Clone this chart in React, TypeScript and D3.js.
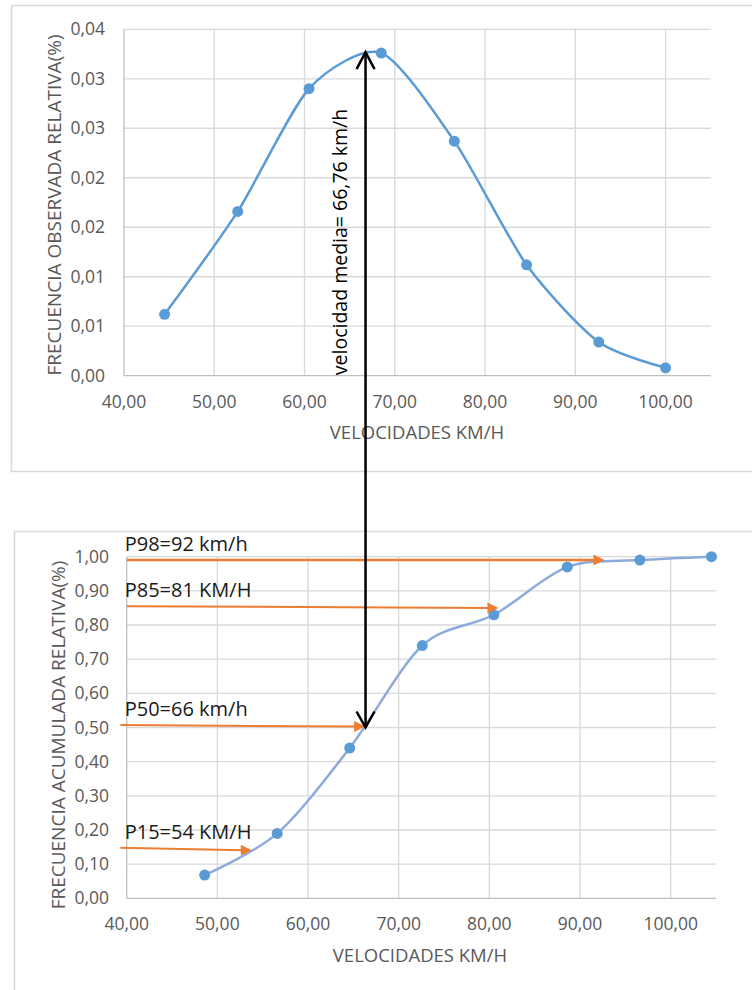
import React, { useEffect, useRef } from "react";
import * as d3 from "d3";

// top chart: observed relative frequency per speed class
const topSpeeds = [44.5, 52.6, 60.5, 68.5, 76.6, 84.6, 92.6, 100.0];
const topFreq = [0.0062, 0.0166, 0.029, 0.0326, 0.0237, 0.0112, 0.0034, 0.0008];
const topYTicks = [0, 0.005, 0.01, 0.015, 0.02, 0.025, 0.03, 0.035];
const topYLabels = ["0,00", "0,01", "0,01", "0,02", "0,02", "0,03", "0,03", "0,04"];

// bottom chart: cumulative relative frequency
const botSpeeds = [48.6, 56.6, 64.6, 72.6, 80.5, 88.6, 96.6, 104.5];
const botCum = [0.068, 0.19, 0.44, 0.74, 0.83, 0.97, 0.99, 1.0];
const botYTicks = [0, 0.1, 0.2, 0.3, 0.4, 0.5, 0.6, 0.7, 0.8, 0.9, 1.0];

const xTicks = [40, 50, 60, 70, 80, 90, 100];

// percentile annotations
const pctLabels = ["P98=92 km/h", "P85=81 KM/H", "P50=66 km/h", "P15=54 KM/H"];
const pctLevel = [0.99, 0.855, 0.507, 0.148];
const pctLevelEnd = [0.99, 0.85, 0.503, 0.141];
const pctStart = [40, 40, 39.3, 39.3];
const pctTip = [92.7, 81.0, 66.3, 53.8];

const meanSpeed = 66.76;
const meanLabel = "velocidad media= 66,76 km/h";

const fmt = (v: number) => v.toFixed(2).replace(".", ",");

export default function App() {
  const ref = useRef<SVGSVGElement>(null);

  useEffect(() => {
    const svg = d3.select(ref.current);
    svg.selectAll("*").remove();
    const font = "'Open Sans', sans-serif";
    const grey = "#595959";
    const tickSize = 17.5;
    const titleSize = 18.5;

    // chart borders
    svg.append("rect").attr("x", 11.5).attr("y", 5.5).attr("width", 760).attr("height", 466)
      .attr("fill", "#fff").attr("stroke", "#d9d9d9").attr("stroke-width", 1.5);
    svg.append("rect").attr("x", 14.5).attr("y", 531.5).attr("width", 760).attr("height", 500)
      .attr("fill", "#fff").attr("stroke", "#d9d9d9").attr("stroke-width", 1.5);

    // ---------- top chart ----------
    const xT = d3.scaleLinear().domain([40, 105]).range([124, 710.7]);
    const yT = d3.scaleLinear().domain([0, 0.035]).range([375.7, 29.3]);
    const gT = svg.append("g");

    gT.selectAll(".hg").data(topYTicks.slice(1)).enter().append("line")
      .attr("x1", xT(40)).attr("x2", xT(105))
      .attr("y1", d => yT(d)).attr("y2", d => yT(d))
      .attr("stroke", "#d9d9d9").attr("stroke-width", 1.3);
    gT.selectAll(".vg").data(xTicks.slice(1)).enter().append("line")
      .attr("x1", d => xT(d)).attr("x2", d => xT(d))
      .attr("y1", yT(0)).attr("y2", yT(0.035))
      .attr("stroke", "#d9d9d9").attr("stroke-width", 1.3);
    // axes
    gT.append("line").attr("x1", xT(40)).attr("x2", xT(105)).attr("y1", yT(0)).attr("y2", yT(0))
      .attr("stroke", "#bfbfbf").attr("stroke-width", 1.3);
    gT.append("line").attr("x1", xT(40)).attr("x2", xT(40)).attr("y1", yT(0)).attr("y2", yT(0.035))
      .attr("stroke", "#bfbfbf").attr("stroke-width", 1.3);

    gT.selectAll(".yl").data(topYTicks).enter().append("text")
      .attr("x", 105).attr("y", d => yT(d)).attr("dy", "0.35em")
      .attr("text-anchor", "end").attr("font-family", font).attr("font-size", tickSize)
      .attr("fill", grey).text((d, i) => topYLabels[i]);
    gT.selectAll(".xl").data(xTicks).enter().append("text")
      .attr("x", d => xT(d)).attr("y", 401.5).attr("dy", "0.35em")
      .attr("text-anchor", "middle").attr("font-family", font).attr("font-size", tickSize)
      .attr("fill", grey).text(d => fmt(d));

    gT.append("text").attr("x", 417).attr("y", 439).attr("text-anchor", "middle")
      .attr("font-family", font).attr("font-size", titleSize).attr("fill", grey)
      .text("VELOCIDADES KM/H");
    gT.append("text").attr("transform", "translate(61,205) rotate(-90)")
      .attr("text-anchor", "middle").attr("font-family", font).attr("font-size", 19)
      .attr("fill", grey).text("FRECUENCIA OBSERVADA RELATIVA(%)");

    const lineT = d3.line<number>()
      .x((d, i) => xT(topSpeeds[i])).y(d => yT(d))
      .curve(d3.curveCardinal.tension(0.25));
    gT.append("path").datum(topFreq).attr("d", lineT)
      .attr("fill", "none").attr("stroke", "#5b9bd5").attr("stroke-width", 2.5);
    gT.selectAll(".pt").data(topFreq).enter().append("circle")
      .attr("cx", (d, i) => xT(topSpeeds[i])).attr("cy", d => yT(d)).attr("r", 5.5)
      .attr("fill", "#5b9bd5");

    // ---------- bottom chart ----------
    const xB = d3.scaleLinear().domain([40, 105]).range([126.7, 716]);
    const yB = d3.scaleLinear().domain([0, 1]).range([898.3, 556.7]);
    const gB = svg.append("g");

    gB.selectAll(".hg").data(botYTicks.slice(1)).enter().append("line")
      .attr("x1", xB(40)).attr("x2", xB(105))
      .attr("y1", d => yB(d)).attr("y2", d => yB(d))
      .attr("stroke", "#d9d9d9").attr("stroke-width", 1.3);
    gB.selectAll(".vg").data(xTicks.slice(1)).enter().append("line")
      .attr("x1", d => xB(d)).attr("x2", d => xB(d))
      .attr("y1", yB(0)).attr("y2", yB(1))
      .attr("stroke", "#d9d9d9").attr("stroke-width", 1.3);
    gB.append("line").attr("x1", xB(40)).attr("x2", xB(105)).attr("y1", yB(0)).attr("y2", yB(0))
      .attr("stroke", "#bfbfbf").attr("stroke-width", 1.3);
    gB.append("line").attr("x1", xB(40)).attr("x2", xB(40)).attr("y1", yB(0)).attr("y2", yB(1))
      .attr("stroke", "#bfbfbf").attr("stroke-width", 1.3);

    gB.selectAll(".yl").data(botYTicks).enter().append("text")
      .attr("x", 109).attr("y", d => yB(d)).attr("dy", "0.35em")
      .attr("text-anchor", "end").attr("font-family", font).attr("font-size", tickSize)
      .attr("fill", grey).text(d => fmt(d));
    gB.selectAll(".xl").data(xTicks).enter().append("text")
      .attr("x", d => xB(d)).attr("y", 924).attr("dy", "0.35em")
      .attr("text-anchor", "middle").attr("font-family", font).attr("font-size", tickSize)
      .attr("fill", grey).text(d => fmt(d));
    gB.append("text").attr("x", 420).attr("y", 962).attr("text-anchor", "middle")
      .attr("font-family", font).attr("font-size", titleSize).attr("fill", grey)
      .text("VELOCIDADES KM/H");
    gB.append("text").attr("transform", "translate(65,735) rotate(-90)")
      .attr("text-anchor", "middle").attr("font-family", font).attr("font-size", 19)
      .attr("fill", grey).text("FRECUENCIA ACUMULADA RELATIVA(%)");

    const lineB = d3.line<number>()
      .x((d, i) => xB(botSpeeds[i])).y(d => yB(d))
      .curve(d3.curveCardinal.tension(0.1));
    gB.append("path").datum(botCum).attr("d", lineB)
      .attr("fill", "none").attr("stroke", "#8eaadc").attr("stroke-width", 2.5);
    gB.selectAll(".pt").data(botCum).enter().append("circle")
      .attr("cx", (d, i) => xB(botSpeeds[i])).attr("cy", d => yB(d)).attr("r", 5.5)
      .attr("fill", "#5b9bd5");

    // percentile arrows (orange)
    pctLabels.forEach((lab, i) => {
      const x1 = xB(pctStart[i]);
      const x2 = xB(pctTip[i]);
      const y1 = yB(pctLevel[i]);
      const y2 = yB(pctLevelEnd[i]);
      gB.append("line").attr("x1", x1).attr("y1", y1).attr("x2", x2 - 9).attr("y2", y2)
        .attr("stroke", "#ed7d31").attr("stroke-width", i === 0 ? 2.5 : 2);
      gB.append("path")
        .attr("d", `M${x2},${y2} L${x2 - 11},${y2 - 5.5} L${x2 - 11},${y2 + 5.5} Z`)
        .attr("fill", "#ed7d31");
      gB.append("text").attr("x", xB(40) - 2).attr("y", y1 - 9)
        .attr("font-family", font).attr("font-size", 20).attr("fill", "#1a1a1a")
        .text(lab);
    });

    // mean speed double arrow spanning both charts
    const mx = xT(meanSpeed);
    const yTop = yT(0.0327);
    const yBot = yB(0.5);
    svg.append("line").attr("x1", mx).attr("x2", mx).attr("y1", yTop + 1).attr("y2", yBot - 1)
      .attr("stroke", "#000").attr("stroke-width", 2.5);
    svg.append("path").attr("d", `M${mx - 9},${yTop + 17} L${mx},${yTop} L${mx + 9},${yTop + 17}`)
      .attr("fill", "none").attr("stroke", "#000").attr("stroke-width", 2.5);
    svg.append("path").attr("d", `M${mx - 9},${yBot - 16} L${mx},${yBot} L${mx + 9},${yBot - 16}`)
      .attr("fill", "none").attr("stroke", "#000").attr("stroke-width", 2.5);
    svg.append("text").attr("transform", `translate(${mx - 19},242) rotate(-90)`)
      .attr("text-anchor", "middle").attr("font-family", font).attr("font-size", 19.5)
      .attr("fill", "#000").text(meanLabel);
  }, []);

  return (
    <svg ref={ref} width={752} height={990}
      style={{ position: "absolute", left: 0, top: 0, background: "#fff" }} />
  );
}
